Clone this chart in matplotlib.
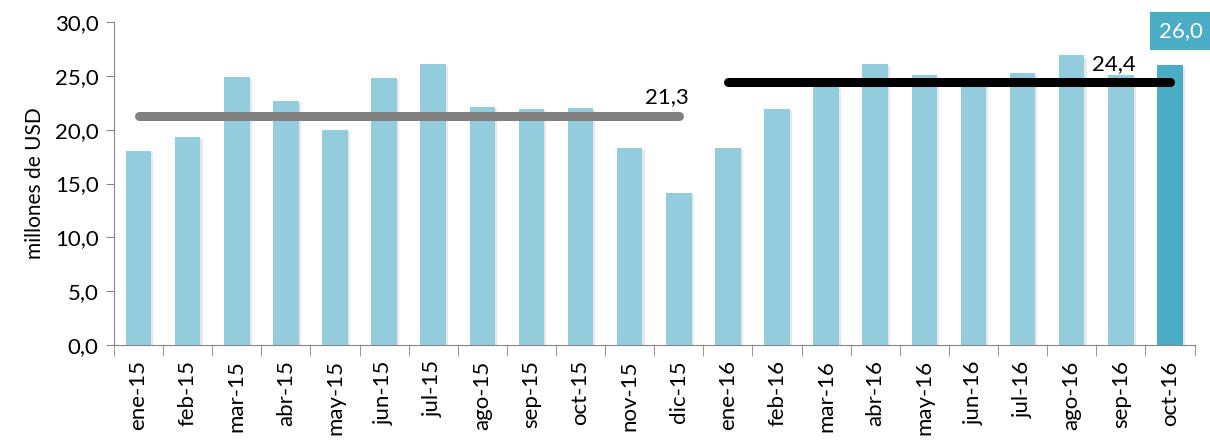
import matplotlib.pyplot as plt
from matplotlib.ticker import FuncFormatter, FixedLocator
import matplotlib.patheffects as pe

plt.rcParams['font.family'] = ['Lato', 'DejaVu Sans']

months = ['ene-15', 'feb-15', 'mar-15', 'abr-15', 'may-15', 'jun-15',
          'jul-15', 'ago-15', 'sep-15', 'oct-15', 'nov-15', 'dic-15',
          'ene-16', 'feb-16', 'mar-16', 'abr-16', 'may-16', 'jun-16',
          'jul-16', 'ago-16', 'sep-16', 'oct-16']
values = [18.0, 19.3, 24.9, 22.7, 20.0, 24.8, 26.1, 22.1, 21.9, 22.0, 18.3, 14.1,
          18.3, 21.9, 24.0, 26.1, 25.1, 24.3, 25.3, 26.9, 25.1, 26.0]
avg_2015 = 21.3
avg_2016 = 24.4

fig = plt.figure(figsize=(12.1, 4.41), dpi=100)
ax = fig.add_axes([0.0942, 0.2177, 0.893, 0.7323])

x = list(range(len(months)))
colors = ['#93CDDD'] * (len(months) - 1) + ['#4BACC6']
shadow = [pe.SimplePatchShadow(offset=(1.5, -1.5), alpha=0.12), pe.Normal()]
bars = ax.bar(x, values, width=0.52, color=colors, zorder=2)
for b in bars:
    b.set_path_effects(shadow)

# promedios
ax.plot([0, 11], [avg_2015, avg_2015], color='#808080', lw=6.5,
        solid_capstyle='round', zorder=3)
ax.plot([12, 21], [avg_2016, avg_2016], color='black', lw=6.5,
        solid_capstyle='round', zorder=3)

fmt = lambda v: f'{v:.1f}'.replace('.', ',')
ax.text(10.75, avg_2015 + 0.8, fmt(avg_2015), ha='center', va='bottom',
        fontsize=16, color='black')
ax.text(19.85, avg_2016 + 0.8, fmt(avg_2016), ha='center', va='bottom',
        fontsize=16, color='black')
ax.text(21.22, 29.2, fmt(values[-1]), ha='center', va='center',
        fontsize=16, color='white',
        bbox=dict(boxstyle='square,pad=0.4', fc='#4BACC6', ec='none'))

ax.set_xlim(-0.5, 21.5)
ax.set_ylim(0, 30)
ax.set_yticks([0, 5, 10, 15, 20, 25, 30])
ax.yaxis.set_major_formatter(FuncFormatter(lambda v, p: fmt(v)))
ax.set_xticks(x)
ax.set_xticklabels(months, rotation=90)
ax.xaxis.set_minor_locator(FixedLocator([i - 0.5 for i in range(len(months) + 1)]))
ax.tick_params(axis='x', which='major', length=0, pad=11, labelsize=16)
ax.tick_params(axis='x', which='minor', length=8, color='#868686', direction='out')
ax.tick_params(axis='y', length=6, color='#868686', direction='out', labelsize=16, pad=5)
ax.set_ylabel('millones de USD', fontsize=15, labelpad=7)

for s in ['top', 'right']:
    ax.spines[s].set_visible(False)
for s in ['left', 'bottom']:
    ax.spines[s].set_color('#868686')

fig.savefig('out.png', dpi=100)
